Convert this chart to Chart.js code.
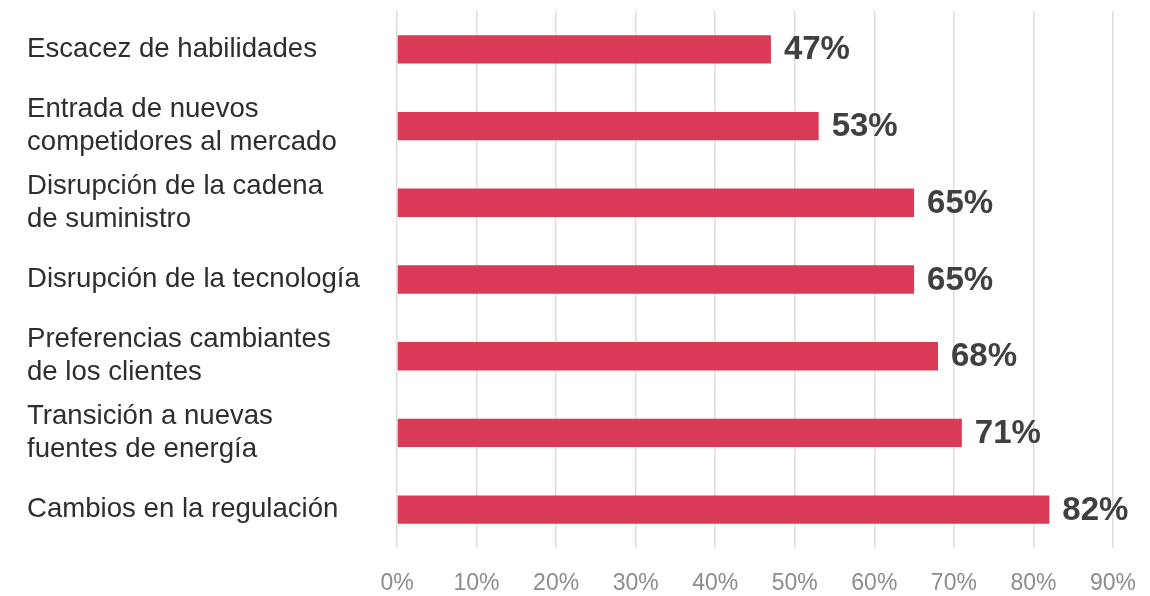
<!DOCTYPE html>
<html>
<head>
<meta charset="utf-8">
<script src="https://cdn.jsdelivr.net/npm/chart.js@4/dist/chart.umd.min.js"></script>
<style>
  html, body { margin: 0; padding: 0; background: #fff; }
  #wrap { width: 1150px; height: 596px; }
</style>
</head>
<body>
<div id="wrap"><canvas id="chart"></canvas></div>
<script>
const categories = [
  'Escacez de habilidades',
  ['Entrada de nuevos', 'competidores al mercado'],
  ['Disrupción de la cadena', 'de suministro'],
  'Disrupción de la tecnología',
  ['Preferencias cambiantes', 'de los clientes'],
  ['Transición a nuevas', 'fuentes de energía'],
  'Cambios en la regulación'
];
const percentages = [47, 53, 65, 65, 68, 71, 82];
const xTicks = [0, 10, 20, 30, 40, 50, 60, 70, 80, 90];

const fontFamily = '"Liberation Sans", Arial, Helvetica, sans-serif';

// prints the value in bold just past the end of each bar
const barValues = {
  id: 'barValues',
  afterDatasetsDraw(chart) {
    const ctx = chart.ctx;
    const meta = chart.getDatasetMeta(0);
    ctx.save();
    ctx.font = 'bold 33px ' + fontFamily;
    ctx.fillStyle = '#404040';
    ctx.textAlign = 'left';
    ctx.textBaseline = 'middle';
    meta.data.forEach((bar, i) => {
      ctx.fillText(chart.data.datasets[0].data[i] + '%', bar.x + 13, bar.y + 1);
    });
    ctx.restore();
  }
};

new Chart(document.getElementById('chart'), {
  type: 'bar',
  data: {
    labels: categories,
    datasets: [{
      data: percentages,
      backgroundColor: '#d93a55',
      borderWidth: 0,
      barPercentage: 0.37,
      categoryPercentage: 1
    }]
  },
  plugins: [barValues],
  options: {
    indexAxis: 'y',
    responsive: true,
    maintainAspectRatio: false,
    animation: false,
    layout: { padding: { left: 27, top: 11, right: 37, bottom: 0 } },
    plugins: {
      legend: { display: false },
      tooltip: { enabled: false }
    },
    scales: {
      x: {
        min: 0,
        max: 90,
        afterBuildTicks(scale) {
          scale.ticks = xTicks.map(v => ({ value: v }));
        },
        afterFit(scale) {
          scale.height = 48;
          scale.paddingLeft = 0;
          scale.paddingRight = 0;
        },
        border: { display: false },
        grid: { color: '#dedede', lineWidth: 1.5, drawTicks: false },
        ticks: {
          padding: 22,
          color: '#8c8c8c',
          font: { family: fontFamily, size: 23 },
          callback: v => v + '%'
        }
      },
      y: {
        afterFit(scale) {
          scale.width = 370;
          scale.paddingTop = 0;
          scale.paddingBottom = 0;
        },
        border: { display: false },
        grid: { display: false },
        ticks: {
          crossAlign: 'far',
          color: '#2e2e2e',
          font: { family: fontFamily, size: 27.6, lineHeight: 1.2 }
        }
      }
    }
  }
});
</script>
</body>
</html>
